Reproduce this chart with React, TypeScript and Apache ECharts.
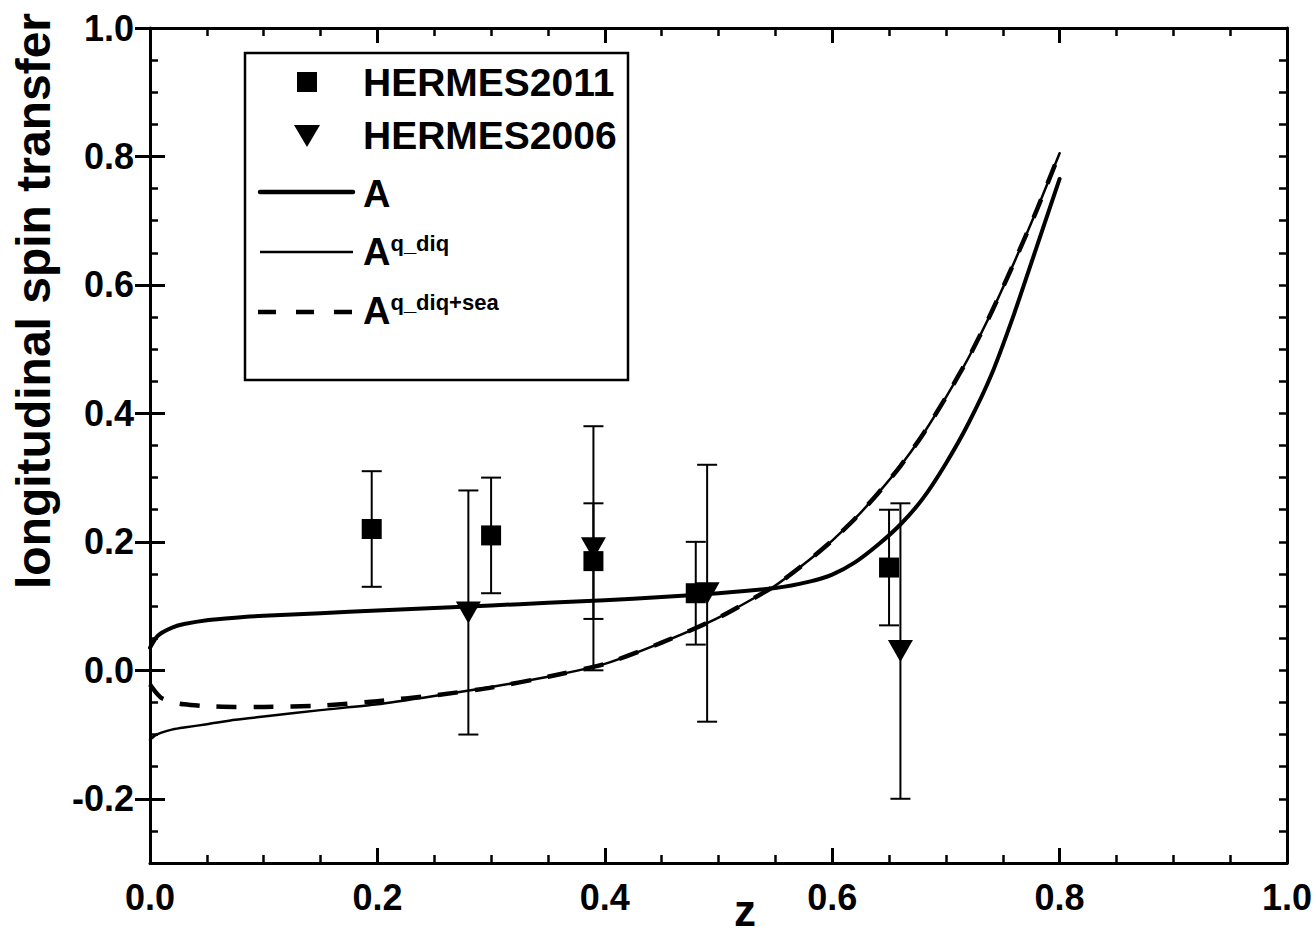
import React, { useEffect, useRef } from "react";
import * as echarts from "echarts";

// z grid shared by the three model curves
const zGrid = [0, 0.005, 0.01, 0.02, 0.03, 0.05, 0.075, 0.1, 0.15, 0.2, 0.25, 0.3, 0.35, 0.4, 0.45, 0.5, 0.55, 0.58, 0.6, 0.62, 0.64, 0.66, 0.68, 0.7, 0.72, 0.74, 0.76, 0.78, 0.8];

// full model A
const curveA = [0.035, 0.05, 0.058, 0.067, 0.072, 0.078, 0.082, 0.085, 0.089, 0.093, 0.097, 0.101, 0.105, 0.109, 0.114, 0.12, 0.128, 0.138, 0.149, 0.168, 0.195, 0.227, 0.268, 0.322, 0.385, 0.46, 0.555, 0.66, 0.765];
// quark-diquark part
const curveQDiq = [-0.108, -0.101, -0.097, -0.092, -0.089, -0.084, -0.077, -0.072, -0.062, -0.053, -0.04, -0.026, -0.01, 0.01, 0.043, 0.082, 0.132, 0.172, 0.202, 0.236, 0.275, 0.318, 0.368, 0.425, 0.487, 0.557, 0.635, 0.717, 0.805];
// quark-diquark plus sea
const curveQDiqSea = [-0.022, -0.034, -0.043, -0.05, -0.053, -0.056, -0.057, -0.057, -0.055, -0.048, -0.039, -0.027, -0.01, 0.01, 0.043, 0.082, 0.132, 0.172, 0.202, 0.236, 0.275, 0.318, 0.368, 0.425, 0.487, 0.557, 0.635, 0.717, 0.805];

// HERMES measurements
const hermes2011Z = [0.195, 0.3, 0.39, 0.48, 0.65];
const hermes2011Val = [0.22, 0.21, 0.17, 0.12, 0.16];
const hermes2011Err = [0.09, 0.09, 0.09, 0.08, 0.09];

const hermes2006Z = [0.28, 0.39, 0.49, 0.66];
const hermes2006Val = [0.09, 0.19, 0.12, 0.03];
const hermes2006Err = [0.19, 0.19, 0.2, 0.23];

// axis ticks
const yMajorTicks = [-0.2, 0, 0.2, 0.4, 0.6, 0.8, 1.0];
const yMin = -0.3;
const yMax = 1.0;

const FONT = "'Liberation Sans', Arial, Helvetica, sans-serif";

const pairs = (xs: number[], ys: number[]) => xs.map((x, i) => [x, ys[i]]);
const triples = (xs: number[], ys: number[], es: number[]) => xs.map((x, i) => [x, ys[i], es[i]]);

function errorBarSeries(data: number[][]) {
  return {
    type: "custom",
    xAxisIndex: 0,
    yAxisIndex: 0,
    data,
    encode: { x: 0, y: 1 },
    z: 3,
    renderItem: (_params: any, api: any) => {
      const x = api.value(0);
      const y = api.value(1);
      const e = api.value(2);
      const top = api.coord([x, y + e]);
      const bot = api.coord([x, y - e]);
      const cap = 10;
      const style = { stroke: "#000", lineWidth: 2 };
      return {
        type: "group",
        children: [
          { type: "line", shape: { x1: top[0], y1: top[1], x2: bot[0], y2: bot[1] }, style },
          { type: "line", shape: { x1: top[0] - cap, y1: top[1], x2: top[0] + cap, y2: top[1] }, style },
          { type: "line", shape: { x1: bot[0] - cap, y1: bot[1], x2: bot[0] + cap, y2: bot[1] }, style },
        ],
      };
    },
  };
}

function xAxisDef(position: "top" | "bottom", labels: boolean) {
  return {
    type: "value",
    position,
    min: 0,
    max: 1,
    interval: 0.2,
    axisLine: { show: true, onZero: false, lineStyle: { color: "#000", width: 3 } },
    axisTick: { show: true, inside: true, length: 15, lineStyle: { color: "#000", width: 3 } },
    minorTick: { show: true, splitNumber: 4, length: 8, lineStyle: { color: "#000", width: 2.5 } },
    axisLabel: {
      show: labels,
      margin: 16,
      color: "#000",
      fontSize: 36,
      fontWeight: "bold",
      fontFamily: FONT,
      formatter: (v: number) => v.toFixed(1),
    },
    splitLine: { show: false },
    minorSplitLine: { show: false },
  };
}

function yMinorAxis(position: "left" | "right") {
  return {
    type: "value",
    position,
    min: yMin,
    max: yMax,
    interval: 0.05,
    axisLine: { show: true, onZero: false, lineStyle: { color: "#000", width: 3 } },
    axisTick: { show: true, inside: true, length: 8, lineStyle: { color: "#000", width: 2.5 } },
    axisLabel: { show: false },
    splitLine: { show: false },
  };
}

function yMajorAxis(position: "left" | "right", labels: boolean) {
  return {
    type: "value",
    position,
    min: yMin,
    max: yMax,
    axisLine: { show: false },
    axisTick: {
      show: true,
      inside: true,
      length: 15,
      customValues: yMajorTicks,
      lineStyle: { color: "#000", width: 3 },
    },
    axisLabel: {
      show: labels,
      customValues: yMajorTicks,
      margin: 16,
      color: "#000",
      fontSize: 36,
      fontWeight: "bold",
      fontFamily: FONT,
      formatter: (v: number) => v.toFixed(1),
    },
    splitLine: { show: false },
  };
}

function curveSeries(name: string, ys: number[], lineStyle: any) {
  return {
    name,
    type: "line",
    data: pairs(zGrid, ys),
    showSymbol: false,
    symbol: "none",
    smooth: 0.2,
    lineStyle: { color: "#000", cap: "round", join: "round", ...lineStyle },
    z: 2,
  };
}

const richSup = {
  a: { fontSize: 38, fontWeight: "bold", fontFamily: FONT, fill: "#000", lineHeight: 40 },
  s: { fontSize: 22, fontWeight: "bold", fontFamily: FONT, fill: "#000", lineHeight: 20, verticalAlign: "top" },
};

export default function App() {
  const ref = useRef<HTMLDivElement>(null);

  useEffect(() => {
    if (!ref.current) return;
    const chart = echarts.init(ref.current, null, { renderer: "svg" });

    const legendLeft = 260;
    const legendRight = 353;
    const textX = 363;

    chart.setOption({
      animation: false,
      backgroundColor: "#fff",
      grid: { left: 150, right: 29, top: 28, bottom: 71, containLabel: false },
      xAxis: [xAxisDef("bottom", true), xAxisDef("top", false)],
      yAxis: [yMinorAxis("left"), yMajorAxis("left", true), yMinorAxis("right"), yMajorAxis("right", false)],
      series: [
        curveSeries("A^{q_diq}", curveQDiq, { width: 2.5 }),
        curveSeries("A^{q_diq+sea}", curveQDiqSea, { width: 4.5, type: [20, 17], cap: "butt" }),
        curveSeries("A", curveA, { width: 4 }),
        errorBarSeries(triples(hermes2011Z, hermes2011Val, hermes2011Err)),
        errorBarSeries(triples(hermes2006Z, hermes2006Val, hermes2006Err)),
        {
          name: "HERMES2011",
          type: "scatter",
          data: pairs(hermes2011Z, hermes2011Val),
          symbol: "rect",
          symbolSize: 20,
          itemStyle: { color: "#000", opacity: 1 },
          z: 4,
        },
        {
          name: "HERMES2006",
          type: "scatter",
          data: pairs(hermes2006Z, hermes2006Val),
          symbol: "triangle",
          symbolRotate: 180,
          symbolSize: [25, 22],
          itemStyle: { color: "#000", opacity: 1 },
          z: 4,
        },
      ],
      graphic: [
        // axis titles
        {
          type: "text",
          x: 33,
          y: 301,
          rotation: Math.PI / 2,
          style: {
            text: "longitudinal spin transfer",
            fontSize: 48,
            fontWeight: "bold",
            fontFamily: FONT,
            fill: "#000",
            align: "center",
            verticalAlign: "middle",
          },
        },
        {
          type: "text",
          x: 745,
          y: 910,
          style: {
            text: "z",
            fontSize: 44,
            fontWeight: "bold",
            fontFamily: FONT,
            fill: "#000",
            align: "center",
            verticalAlign: "middle",
          },
        },
        // legend box
        {
          type: "rect",
          z: 10,
          shape: { x: 245, y: 53, width: 383, height: 327 },
          style: { fill: "#fff", stroke: "#000", lineWidth: 2.5 },
        },
        {
          type: "rect",
          z: 11,
          shape: { x: 297, y: 72, width: 20, height: 20 },
          style: { fill: "#000" },
        },
        {
          type: "polygon",
          z: 11,
          shape: { points: [[294, 125], [320, 125], [307, 147]] },
          style: { fill: "#000" },
        },
        {
          type: "line",
          z: 11,
          shape: { x1: legendLeft, y1: 192, x2: legendRight, y2: 192 },
          style: { stroke: "#000", lineWidth: 4.5, lineCap: "round" },
        },
        {
          type: "line",
          z: 11,
          shape: { x1: legendLeft, y1: 252, x2: legendRight, y2: 252 },
          style: { stroke: "#000", lineWidth: 2.5 },
        },
        {
          type: "line",
          z: 11,
          shape: { x1: 258, y1: 312, x2: legendRight, y2: 312 },
          style: { stroke: "#000", lineWidth: 4.5, lineDash: [18, 20] },
        },
        {
          type: "text",
          z: 11,
          x: textX,
          y: 82,
          style: { text: "HERMES2011", fontSize: 39, fontWeight: "bold", fontFamily: FONT, fill: "#000", verticalAlign: "middle" },
        },
        {
          type: "text",
          z: 11,
          x: textX,
          y: 135,
          style: { text: "HERMES2006", fontSize: 39, fontWeight: "bold", fontFamily: FONT, fill: "#000", verticalAlign: "middle" },
        },
        {
          type: "text",
          z: 11,
          x: textX,
          y: 194,
          style: { text: "A", fontSize: 38, fontWeight: "bold", fontFamily: FONT, fill: "#000", verticalAlign: "middle" },
        },
        {
          type: "text",
          z: 11,
          x: textX,
          y: 252,
          style: { text: "{a|A}{s|q_diq}", fill: "#000", verticalAlign: "middle", rich: richSup },
        },
        {
          type: "text",
          z: 11,
          x: textX,
          y: 311,
          style: { text: "{a|A}{s|q_diq+sea}", fill: "#000", verticalAlign: "middle", rich: richSup },
        },
      ],
    });

    return () => chart.dispose();
  }, []);

  return (
    <div
      ref={ref}
      style={{ position: "fixed", left: 0, top: 0, width: 1316, height: 934, background: "#fff" }}
    />
  );
}
